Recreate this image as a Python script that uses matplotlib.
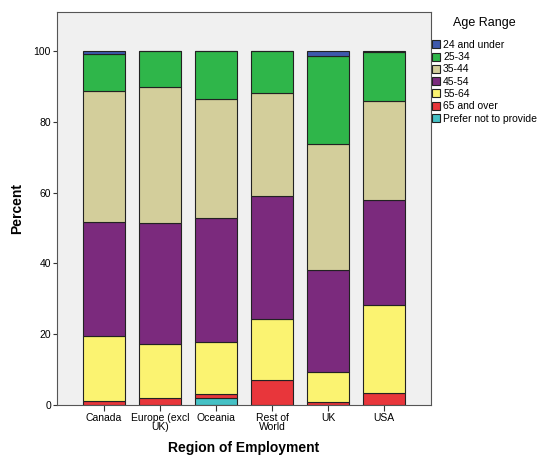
import numpy as np
import matplotlib
matplotlib.use('Agg')
import matplotlib.pyplot as plt

# data (percent within each region)
# -----------------------------------------------------
regions = ['Canada', 'Europe (excl\nUK)', 'Oceania', 'Rest of\nWorld', 'UK', 'USA']
ageRanges = ['24 and under', '25-34', '35-44', '45-54', '55-64', '65 and over',
             'Prefer not to provide']

preferNot = [0.0, 0.0, 1.9, 0.0, 0.0, 0.0]
over65 = [1.1, 2.0, 1.3, 6.9, 0.9, 3.3]
age55_64 = [18.5, 15.2, 14.6, 17.5, 8.4, 25.0]
age45_54 = [32.1, 34.1, 35.0, 34.7, 28.9, 29.5]
age35_44 = [37.1, 38.6, 33.7, 29.1, 35.6, 28.1]
age25_34 = [10.4, 10.1, 13.5, 11.8, 24.8, 13.9]
under24 = [0.8, 0.0, 0.0, 0.0, 1.4, 0.2]

colors = {'24 and under': '#3e58ac', '25-34': '#2fb64a', '35-44': '#d3ce9b',
          '45-54': '#7b2a7d', '55-64': '#fbf371', '65 and over': '#e8363b',
          'Prefer not to provide': '#45c1c5'}

# stacked from bottom to top
stack = [('Prefer not to provide', preferNot), ('65 and over', over65),
         ('55-64', age55_64), ('45-54', age45_54), ('35-44', age35_44),
         ('25-34', age25_34), ('24 and under', under24)]

plt.rcParams['font.family'] = ['Liberation Sans', 'DejaVu Sans']

fig = plt.figure(figsize=(5.39, 4.58), dpi=100)
ax = fig.add_axes([0.105, 0.116, 0.694, 0.857])
ax.set_facecolor('#f0f0f0')

x = np.arange(len(regions))
bottom = np.zeros(len(regions))
handles = {}
for name, vals in stack:
    vals = np.array(vals)
    b = ax.bar(x, vals, width=0.75, bottom=bottom, color=colors[name],
               edgecolor='#222222', linewidth=0.8, label=name)
    handles[name] = b
    bottom += vals

ax.set_xlim(-0.84, 5.83)
ax.set_ylim(0, 111)
ax.set_yticks([0, 20, 40, 60, 80, 100])
ax.set_xticks(x)
ax.set_xticklabels(regions, fontsize=7.5, linespacing=0.8)
ax.tick_params(axis='y', labelsize=7.5, length=3, color='#333333', pad=1)
ax.tick_params(axis='x', length=4, color='#333333', pad=2)
for s in ax.spines.values():
    s.set_color('#555555')
    s.set_linewidth(0.8)

ax.set_ylabel('Percent', fontsize=10, fontweight='bold', labelpad=7)
ax.set_xlabel('Region of Employment', fontsize=10, fontweight='bold', labelpad=7)

# legend outside the plot, no frame
leg = fig.legend([handles[n] for n in ageRanges], ageRanges, loc='upper left',
                 bbox_to_anchor=(0.797, 0.968), frameon=False, fontsize=7.5,
                 title='Age Range', title_fontsize=9, handlelength=0.8,
                 handleheight=0.8, handletextpad=0.3, labelspacing=0.22,
                 borderaxespad=0, borderpad=0.2)
leg._legend_box.sep = 8

fig.savefig('out.png', dpi=100)
